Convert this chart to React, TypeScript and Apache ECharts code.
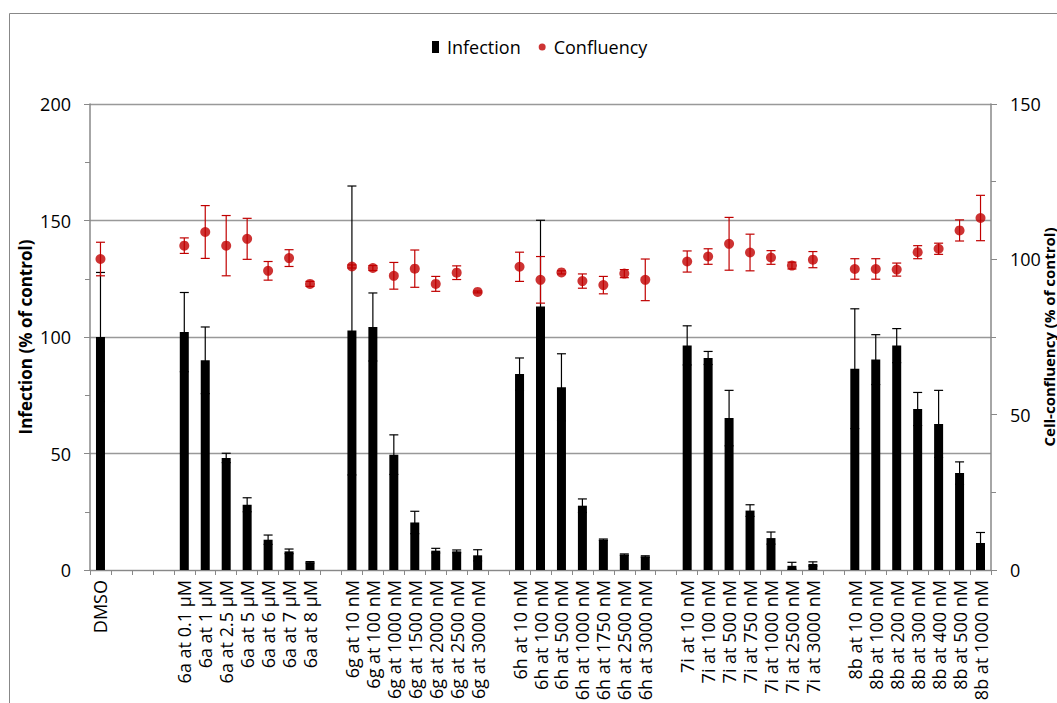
import React, { useEffect, useRef } from "react";
import * as echarts from "echarts";

const categories: string[] = [
  "DMSO", "", "", "",
  "6a at 0.1 μM", "6a at 1 μM", "6a at 2.5 μM", "6a at 5 μM", "6a at 6 μM", "6a at 7 μM", "6a at 8 μM", "",
  "6g at 10 nM", "6g at 100 nM", "6g at 1000 nM", "6g at 1500 nM", "6g at 2000 nM", "6g at 2500 nM", "6g at 3000 nM", "",
  "6h at 10 nM", "6h at 100 nM", "6h at 500 nM", "6h at 1000 nM", "6h at 1750 nM", "6h at 2500 nM", "6h at 3000 nM", "",
  "7i at 10 nM", "7i at 100 nM", "7i at 500 nM", "7i at 750 nM", "7i at 1000 nM", "7i at 2500 nM", "7i at 3000 nM", "",
  "8b at 10 nM", "8b at 100 nM", "8b at 200 nM", "8b at 300 nM", "8b at 400 nM", "8b at 500 nM", "8b at 1000 nM",
];

const infection: (number | null)[] = [
  100, null, null, null,
  102.1, 90, 48.1, 28, 13, 8, 3.3, null,
  102.8, 104.3, 49.5, 20.4, 8.3, 8, 6.3, null,
  84.1, 113.1, 78.4, 27.6, 13, 6.6, 5.8, null,
  96.4, 91, 65.2, 25.5, 13.7, 1.8, 2.6, null,
  86.4, 90.3, 96.3, 69.1, 62.7, 41.6, 11.6,
];

const infectionErr: (number | null)[] = [
  27.7, null, null, null,
  17, 14.3, 2, 3, 2, 1, 0.3, null,
  62, 14.6, 8.5, 4.8, 1, 0.6, 2.4, null,
  6.9, 37, 14.4, 2.9, 0.3, 0.3, 0.3, null,
  8.4, 2.8, 11.9, 2.5, 2.6, 1.5, 0.9, null,
  25.7, 10.7, 7.3, 7.1, 14.4, 4.8, 4.5,
];

const confluency: (number | null)[] = [
  100.1, null, null, null,
  104.4, 108.8, 104.4, 106.6, 96.3, 100.4, 92.1, null,
  97.7, 97.2, 94.7, 97, 92.1, 95.7, 89.5, null,
  97.6, 93.4, 95.8, 93, 91.7, 95.4, 93.4, null,
  99.3, 100.9, 105, 102.2, 100.6, 98, 99.9, null,
  96.9, 96.9, 96.7, 102.3, 103.4, 109.3, 113.3,
];

const confluencyErr: (number | null)[] = [
  5.4, null, null, null,
  2.5, 8.5, 9.7, 6.6, 3, 2.7, 0.8, null,
  0.5, 0.8, 4.3, 6, 2.4, 2.2, 0.3, null,
  4.7, 7.5, 0.5, 2.3, 2.8, 1.3, 6.7, null,
  3.4, 2.5, 8.5, 5.9, 2.2, 1.1, 2.6, null,
  3.3, 3.3, 2.1, 2.1, 1.8, 3.4, 7.3,
];

const FONT = "'Open Sans', 'Noto Sans', sans-serif";
const GREY = "#888888";
const RED = "#C00000";

function errData(vals: (number | null)[], errs: (number | null)[]) {
  const out: number[][] = [];
  vals.forEach((v, i) => {
    const e = errs[i];
    if (v != null && e != null) out.push([i, v - e, v + e]);
  });
  return out;
}

function makeErrRender(color: string) {
  return (params: any, api: any) => {
    const x = api.value(0);
    const top = api.coord([x, api.value(2)]);
    const bot = api.coord([x, api.value(1)]);
    const hw = 4.5;
    const style = { stroke: color, lineWidth: 1.2 };
    return {
      type: "group",
      children: [
        { type: "line", shape: { x1: top[0], y1: top[1], x2: bot[0], y2: bot[1] }, style },
        { type: "line", shape: { x1: top[0] - hw, y1: top[1], x2: top[0] + hw, y2: top[1] }, style },
        { type: "line", shape: { x1: bot[0] - hw, y1: bot[1], x2: bot[0] + hw, y2: bot[1] }, style },
      ],
    };
  };
}

export default function App() {
  const ref = useRef<HTMLDivElement>(null);
  useEffect(() => {
    document.body.style.margin = "0";
    if (!ref.current) return;
    const chart = echarts.init(ref.current, undefined, { renderer: "svg" });
    chart.setOption({
      animation: false,
      backgroundColor: "#fff",
      textStyle: { fontFamily: FONT },
      graphic: [
        {
          type: "rect",
          shape: { x: 9.5, y: 13.5, width: 1200, height: 900 },
          style: { fill: "none", stroke: GREY, lineWidth: 1 },
          silent: true,
          z: -10,
        },
      ],
      legend: {
        left: 427,
        top: 33,
        itemWidth: 7,
        itemHeight: 12,
        itemGap: 18,
        textStyle: { fontFamily: FONT, fontSize: 18, color: "#000", padding: [0, 0, 0, 3] },
        data: [
          { name: "Infection", icon: "rect" },
          { name: "Confluency", icon: "path://M5,0 A5,5 0 1,1 5,10 A5,5 0 1,1 5,0 Z" },
        ],
      },
      grid: { left: 90, right: 66, top: 104, bottom: 133, containLabel: false, outerBoundsMode: "none" },
      xAxis: {
        type: "category",
        data: categories,
        boundaryGap: true,
        axisLine: { lineStyle: { color: GREY, width: 1 } },
        axisTick: { show: true, alignWithLabel: false, interval: 0, length: 5, lineStyle: { color: GREY } },
        axisLabel: {
          interval: 0,
          rotate: 90,
          margin: 10,
          fontFamily: FONT,
          fontSize: 18,
          color: "#000",
        },
        splitLine: { show: false },
      },
      yAxis: [
        {
          type: "value",
          min: 0,
          max: 200,
          interval: 50,
          name: "Infection (% of control)",
          nameLocation: "middle",
          nameRotate: 90,
          nameGap: 56,
          nameMoveOverlap: false,
          nameTextStyle: { fontFamily: FONT, fontSize: 17, fontWeight: "bold", color: "#000" },
          axisLine: { show: true, lineStyle: { color: GREY, width: 1.5 } },
          axisTick: { show: true, length: 6, lineStyle: { color: GREY } },
          minorTick: { show: true, splitNumber: 2, length: 5, lineStyle: { color: GREY } },
          axisLabel: { margin: 19, fontFamily: FONT, fontSize: 18, color: "#000" },
          splitLine: { show: true, lineStyle: { color: "#999999", width: 1.3 } },
        },
        {
          type: "value",
          min: 0,
          max: 150,
          interval: 50,
          position: "right",
          name: "Cell-confluency (% of control)",
          nameLocation: "middle",
          nameRotate: 90,
          nameGap: 50,
          nameMoveOverlap: false,
          nameTextStyle: { fontFamily: FONT, fontSize: 15, fontWeight: "bold", color: "#000" },
          axisLine: { show: true, lineStyle: { color: GREY, width: 1.5 } },
          axisTick: { show: true, length: 6, lineStyle: { color: GREY } },
          minorTick: { show: true, splitNumber: 2, length: 5, lineStyle: { color: GREY } },
          axisLabel: { margin: 19, fontFamily: FONT, fontSize: 18, color: "#000" },
          splitLine: { show: false },
        },
      ],
      series: [
        {
          name: "Infection",
          type: "bar",
          yAxisIndex: 0,
          data: infection.map((v) => (v == null ? "-" : v)),
          barWidth: 9,
          itemStyle: { color: "#000" },
          z: 2,
        },
        {
          type: "custom",
          yAxisIndex: 0,
          data: errData(infection, infectionErr),
          encode: { x: 0, y: [1, 2] },
          renderItem: makeErrRender("#000"),
          z: 3,
          silent: true,
        },
        {
          type: "custom",
          yAxisIndex: 1,
          data: errData(confluency, confluencyErr),
          encode: { x: 0, y: [1, 2] },
          renderItem: makeErrRender(RED),
          z: 4,
          silent: true,
        },
        {
          name: "Confluency",
          type: "scatter",
          yAxisIndex: 1,
          data: confluency.map((v) => (v == null ? "-" : v)),
          symbol: "circle",
          symbolSize: 10,
          itemStyle: { color: RED },
          z: 5,
        },
      ],
    });
    return () => chart.dispose();
  }, []);
  return (
    <div
      ref={ref}
      style={{ position: "absolute", left: 0, top: 0, width: 1057, height: 703 }}
    />
  );
}
